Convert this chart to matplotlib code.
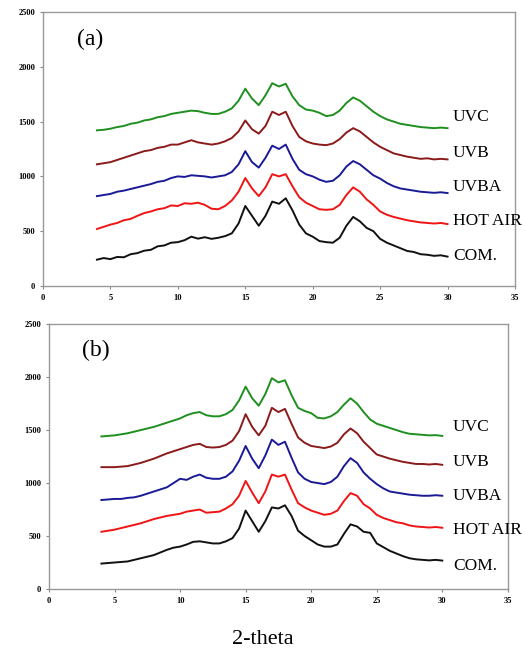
import numpy as np
import matplotlib
matplotlib.use("Agg")
import matplotlib.pyplot as plt

# 2-theta sampling (deg)
theta = np.arange(4, 30.25, 0.5)

names = ["UVC", "UVB", "UVBA", "HOT AIR", "COM."]
colors = ["#1f8f1f", "#8b1a1a", "#1a1a96", "#f01414", "#111111"]

# panel (a)
a_uvc = [1420, 1425, 1435, 1450, 1460, 1480, 1490, 1510, 1520, 1540,
         1550, 1570, 1580, 1590, 1600, 1595, 1580, 1570, 1570, 1590,
         1620, 1690, 1800, 1710, 1650, 1740, 1850, 1820, 1845, 1730,
         1650, 1610, 1600, 1580, 1550, 1560, 1600, 1670, 1720, 1690,
         1640, 1590, 1550, 1520, 1500, 1480, 1470, 1460, 1450, 1445,
         1440, 1445, 1440]
a_uvb = [1110, 1120, 1130, 1150, 1170, 1190, 1210, 1230, 1240, 1260,
         1270, 1290, 1290, 1310, 1330, 1310, 1300, 1290, 1300, 1320,
         1350, 1410, 1510, 1430, 1390, 1460, 1590, 1560, 1590, 1460,
         1360, 1320, 1300, 1290, 1285, 1300, 1340, 1400, 1440, 1410,
         1360, 1310, 1270, 1240, 1210, 1195, 1180, 1170, 1160, 1165,
         1155, 1160, 1155]
a_uvba = [820, 830, 840, 860, 870, 885, 900, 915, 930, 950,
          960, 985, 1000, 995, 1010, 1005, 1000, 990, 1000, 1010,
          1040, 1110, 1230, 1130, 1080, 1170, 1280, 1250, 1290, 1160,
          1060, 1020, 1000, 970, 950, 960, 1010, 1090, 1140, 1110,
          1060, 1010, 980, 940, 910, 890, 880, 870, 860, 855,
          850, 855, 848]
a_hot = [520, 540, 560, 575, 600, 612, 640, 665, 680, 700,
         710, 735, 730, 755, 750, 760, 740, 705, 700, 730,
         780, 860, 985, 890, 820, 900, 1020, 1000, 1020, 910,
         810, 760, 730, 700, 695, 700, 740, 830, 900, 860,
         790, 740, 680, 650, 630, 615, 600, 590, 580, 575,
         570, 575, 565]
a_com = [240, 255, 245, 265, 262, 290, 300, 322, 330, 362,
         370, 395, 400, 418, 450, 432, 445, 430, 440, 455,
         480, 570, 730, 640, 550, 640, 770, 750, 800, 690,
         560, 480, 450, 410, 400, 395, 440, 550, 630, 590,
         530, 500, 430, 395, 370, 345, 320, 310, 290, 285,
         275, 280, 268]

# panel (b)
b_uvc = [1440, 1445, 1450, 1460, 1470, 1485, 1500, 1515, 1530, 1550,
         1570, 1590, 1610, 1640, 1660, 1670, 1640, 1630, 1630, 1650,
         1690, 1780, 1910, 1800, 1730, 1840, 1990, 1950, 1970, 1830,
         1710, 1680, 1660, 1615, 1610, 1630, 1670, 1740, 1800, 1750,
         1670, 1600, 1560, 1540, 1520, 1500, 1480, 1465, 1460, 1455,
         1450, 1452, 1445]
b_uvb = [1150, 1150, 1150, 1155, 1160, 1175, 1190, 1210, 1230, 1255,
         1280, 1300, 1320, 1340, 1360, 1370, 1340, 1335, 1340, 1360,
         1400, 1490, 1650, 1530, 1450, 1540, 1710, 1670, 1700, 1560,
         1430, 1380, 1350, 1340, 1330, 1345, 1380, 1460, 1515, 1470,
         1390, 1330, 1270, 1250, 1230, 1215, 1200, 1190, 1180, 1180,
         1175, 1180, 1172]
b_uvba = [840, 845, 850, 850, 860, 865, 880, 900, 920, 940,
          960, 1000, 1040, 1030, 1060, 1080, 1050, 1040, 1040, 1060,
          1110, 1210, 1350, 1230, 1140, 1260, 1410, 1360, 1390, 1240,
          1100, 1040, 1010, 1000, 990, 1010, 1060, 1160, 1235, 1190,
          1100, 1040, 990, 950, 920, 910, 900, 890, 885, 880,
          880, 885, 880]
b_hot = [540, 550, 560, 575, 590, 605, 620, 640, 660, 675,
         690, 700, 710, 730, 740, 750, 720, 725, 730, 760,
         800, 880, 1020, 910, 810, 920, 1080, 1060, 1080, 940,
         810, 770, 740, 720, 700, 710, 740, 830, 905, 880,
         800, 760, 700, 670, 650, 630, 620, 600, 590, 585,
         580, 585, 578]
b_com = [240, 245, 250, 255, 260, 275, 290, 305, 320, 345,
         370, 390, 400, 420, 445, 450, 440, 430, 430, 450,
         480, 570, 740, 640, 540, 640, 770, 760, 790, 690,
         550, 500, 460, 420, 400, 400, 420, 520, 610, 590,
         540, 530, 430, 395, 360, 335, 310, 290, 280, 275,
         270, 275, 268]

x_ticks = [0, 5, 10, 15, 20, 25, 30, 35]
y_ticks = [0, 500, 1000, 1500, 2000, 2500]

serif = ["Liberation Serif", "DejaVu Serif"]

fig = plt.figure(figsize=(5.25, 6.54), dpi=100)
ax_a = fig.add_axes([0.0819, 0.5627, 0.899, 0.419])
ax_b = fig.add_axes([0.0933, 0.0994, 0.874, 0.405])

panels = [
    (ax_a, "(a)", [a_uvc, a_uvb, a_uvba, a_hot, a_com], 30.4,
     [1542, 1213, 903, 593, 274]),
    (ax_b, "(b)", [b_uvc, b_uvb, b_uvba, b_hot, b_com], 30.8,
     [1528, 1198, 877, 557, 217]),
]

for ax, tag, series, lx, ly in panels:
    for ys, c, name, yl in zip(series, colors, names, ly):
        ax.plot(theta, ys, color=c, lw=1.4)
        ax.text(lx, yl, name, ha="left", va="center", family=serif,
                fontsize=12.5, clip_on=False)
    ax.set_xlim(0, 35)
    ax.set_ylim(0, 2500)
    ax.set_xticks(x_ticks)
    ax.set_yticks(y_ticks)
    ax.tick_params(direction="out", length=2.5, width=0.8, colors="#888888",
                   labelcolor="black", labelsize=6, pad=3)
    for lab in ax.get_xticklabels() + ax.get_yticklabels():
        lab.set_family(serif)
        lab.set_fontweight("bold")
    for sp in ax.spines.values():
        sp.set_color("#999999")
        sp.set_linewidth(1.0)
    ax.text(0.072, 0.9, tag, transform=ax.transAxes, family=serif,
            fontsize=17, ha="left", va="center")

fig.text(0.5, 0.022, "2-theta", ha="center", va="center", family=serif,
         fontsize=16)

fig.savefig("out.png", dpi=100)
